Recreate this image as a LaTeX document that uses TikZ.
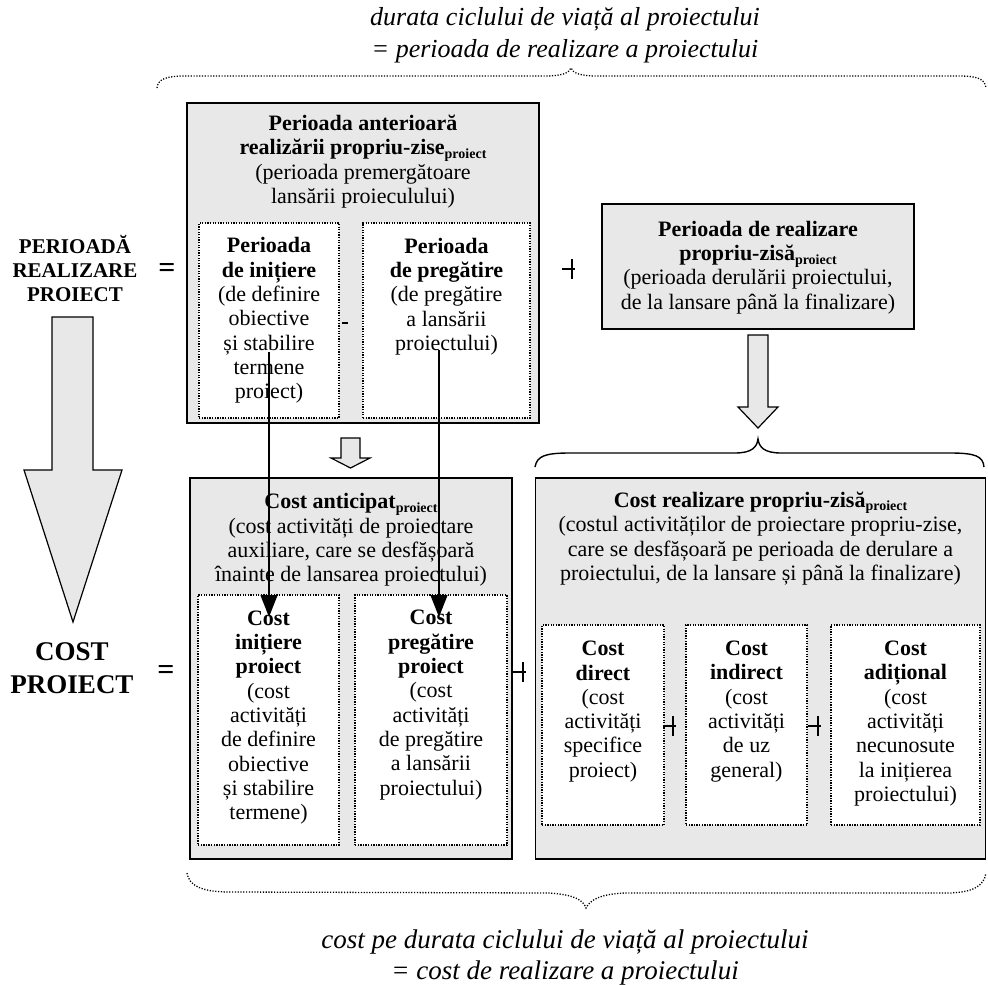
\documentclass[tikz,border=0pt]{standalone}
\usepackage{fontspec}
\setmainfont{Liberation Serif}
\usetikzlibrary{arrows.meta}
\definecolor{boxgray}{RGB}{232,232,232}
\newcommand{\projsub}{\raisebox{-0.35ex}{\fontsize{14}{14}\selectfont\bfseries proiect}}
\tikzset{
  body/.style={font=\fontsize{22}{24.3}\selectfont, align=center, inner sep=0pt},
  toptxt/.style={font=\fontsize{26}{32}\selectfont\itshape, align=center, inner sep=0pt},
  bottxt/.style={font=\fontsize{27}{31}\selectfont\itshape, align=center, inner sep=0pt},
  sidetxt/.style={font=\fontsize{21}{24}\selectfont\bfseries, align=center, inner sep=0pt},
  costtxt/.style={font=\fontsize{27}{33}\selectfont\bfseries, align=center, inner sep=0pt},
  eqtxt/.style={font=\fontsize{30}{30}\selectfont\bfseries, inner sep=0pt},
  bigbox/.style={draw=black, line width=1.6pt, fill=boxgray, inner sep=0pt},
  dotbox/.style={draw=black, line width=1.3pt, dash pattern=on 1.3pt off 1.3pt, fill=white, inner sep=0pt},
  conn/.style={line width=1.4pt, -{Triangle[width=17pt,length=22pt]}},
  hollow/.style={draw=black, line width=1.2pt, fill=boxgray, line join=miter},
  bracedot/.style={line width=1.3pt, dash pattern=on 1.2pt off 1.6pt},
  bracesolid/.style={line width=1.4pt},
  plusmk/.pic={\draw[line width=2pt] (-10,0) -- (3,0) (0,-10) -- (0,10);},
}
\begin{document}
\begin{tikzpicture}[x=1pt,y=-1pt]
\useasboundingbox (0,0) rectangle (988,985);

% life-cycle headline and its brace
\node[toptxt] (toptitle) at (565,35) {durata ciclului de viață al proiectului\\= perioada de realizare a proiectului};
\draw[bracedot] (157,88) .. controls (158,79) and (166,76) .. (186,76) -- (545,76)
  .. controls (562,76) and (569,73) .. (571,68) .. controls (573,73) and (580,76) .. (597,76)
  -- (958,76) .. controls (978,76) and (985,79) .. (986,88);

% left-hand labels
\node[sidetxt] (perlabel) at (75,268) {PERIOADĂ\\REALIZARE\\PROIECT};
\node[eqtxt] (eqtop) at (167,270) {=};
\node[costtxt] (costlabel) at (72,668) {COST\\PROIECT};
\node[eqtxt] (eqbot) at (166,672) {=};
\draw[hollow] (52,317) -- (93,317) -- (93,470) -- (122,470) -- (73,622) -- (24,470) -- (52,470) -- cycle;

% period before launch
\node[bigbox, minimum width=352pt, minimum height=320pt] (boxA) at (363,263) {};
\node[body] (boxAtxt) at (363,161.5) {\textbf{Perioada anterioară}\\\textbf{realizării propriu-zise}\projsub\\(perioada premergătoare\\lansării proieculului)};
\node[dotbox, minimum width=140pt, minimum height=195pt] (boxA1) at (269,320.5) {};
\node[body] (boxA1txt) at (269,320.5) {\textbf{Perioada}\\\textbf{de inițiere}\\(de definire\\obiective\\și stabilire\\termene\\proiect)};
\node[dotbox, minimum width=167pt, minimum height=195pt] (boxA2) at (446.5,320.5) {};
\node[body] (boxA2txt) at (446.5,296.5) {\textbf{Perioada}\\\textbf{de pregătire}\\(de pregătire\\a lansării\\proiectului)};
\draw[line width=2pt] (342,323) -- (348,323);

% period of execution
\pic at (572,269) {plusmk};
\node[bigbox, minimum width=312pt, minimum height=125pt] (boxD) at (758,266.5) {};
\node[body] (boxDtxt) at (758,267.5) {\textbf{Perioada de realizare}\\\textbf{propriu-zisă}\projsub\\(perioada derulării proiectului,\\de la lansare până la finalizare)};

% hollow arrows towards the costs
\draw[hollow] (341,438) -- (360,438) -- (360,458) -- (370,458) -- (350.5,468) -- (331,458) -- (341,458) -- cycle;
\draw[hollow] (748,335) -- (768,335) -- (768,407) -- (778,407) -- (758,428) -- (738,407) -- (748,407) -- cycle;
\draw[bracesolid] (535,467) .. controls (537,456) and (545,453) .. (570,453) -- (735,453)
  .. controls (752,453) and (757,447) .. (758,439) .. controls (759,447) and (764,453) .. (781,453)
  -- (950,453) .. controls (975,453) and (983,456) .. (984,467);

% anticipated cost
\node[bigbox, minimum width=322pt, minimum height=381pt] (boxB) at (351,668.5) {};
\node[body] (boxBtxt) at (351,540) {\textbf{Cost anticipat}\projsub\\(cost activități de proiectare\\auxiliare, care se desfășoară\\înainte de lansarea proiectului)};
\node[dotbox, minimum width=141pt, minimum height=250pt] (boxB1) at (268.5,720) {};
\node[body] (boxB1txt) at (268.5,717.5) {\textbf{Cost}\\\textbf{inițiere}\\\textbf{proiect}\\(cost\\activități\\de definire\\obiective\\și stabilire\\termene)};
\node[dotbox, minimum width=152pt, minimum height=250pt] (boxB2) at (431,720) {};
\node[body] (boxB2txt) at (431,705) {\textbf{Cost}\\\textbf{pregătire}\\\textbf{proiect}\\(cost\\activități\\de pregătire\\a lansării\\proiectului)};

\pic at (523,672) {plusmk};

% execution cost
\node[bigbox, minimum width=450pt, minimum height=381pt] (boxC) at (760.5,668.5) {};
\node[body] (boxCtxt) at (760.5,538.5) {\textbf{Cost realizare propriu-zisă}\projsub\\(costul activităților de proiectare propriu-zise,\\care se desfășoară pe perioada de derulare a\\proiectului, de la lansare și până la finalizare)};
\node[dotbox, minimum width=122pt, minimum height=200pt] (boxC1) at (603,725) {};
\node[body] (boxC1txt) at (603,711.5) {\textbf{Cost}\\\textbf{direct}\\(cost\\activități\\specifice\\proiect)};
\node[dotbox, minimum width=121pt, minimum height=200pt] (boxC2) at (746.5,725) {};
\node[body] (boxC2txt) at (746.5,711.5) {\textbf{Cost}\\\textbf{indirect}\\(cost\\activități\\de uz\\general)};
\node[dotbox, minimum width=149pt, minimum height=200pt] (boxC3) at (905.5,725) {};
\node[body] (boxC3txt) at (905.5,723.5) {\textbf{Cost}\\\textbf{adițional}\\(cost\\activități\\necunosute\\la inițierea\\proiectului)};
\pic at (673,726) {plusmk};
\pic at (818,726) {plusmk};

% links from each period to its cost
\coordinate (initsrc) at (269,352);
\coordinate (initdst) at (269,617);
\coordinate (prepsrc) at (439,350);
\coordinate (prepdst) at (439,617);
\draw[conn] (initsrc) -- (initdst);
\draw[conn] (prepsrc) -- (prepdst);

% life-cycle cost brace and caption
\draw[bracedot] (187,873) .. controls (189,885) and (200,892) .. (230,892) -- (550,893)
  .. controls (575,895) and (583,900) .. (586,908) .. controls (590,900) and (600,894) .. (625,893)
  -- (950,893) .. controls (975,892) and (984,885) .. (986,873);
\node[bottxt] (bottitle) at (565,957) {cost pe durata ciclului de viață al proiectului\\= cost de realizare a proiectului};
\end{tikzpicture}
\end{document}
